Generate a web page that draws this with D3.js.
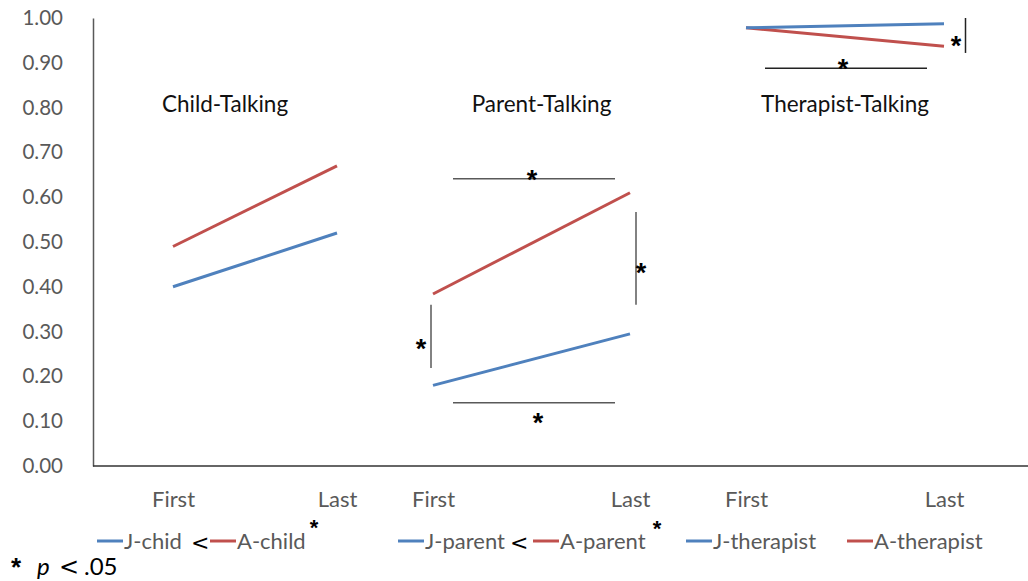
<!DOCTYPE html>
<html>
<head>
<meta charset="utf-8">
<script src="https://cdn.jsdelivr.net/npm/d3@7"></script>
<style>
  html, body { margin: 0; padding: 0; background: #fff; }
  svg { display: block; font-family: Lato, "Open Sans", sans-serif; }
</style>
</head>
<body>
<svg id="chart" width="1028" height="581"></svg>
<script>
// Proportion of talking time, first vs. last session
const times = ["First", "Last"];
const panels = ["Child-Talking", "Parent-Talking", "Therapist-Talking"];
const jValues = [[0.40, 0.52], [0.18, 0.295], [0.978, 0.987]];
const aValues = [[0.49, 0.67], [0.384, 0.61], [0.978, 0.937]];
const yTicks = [0, 0.1, 0.2, 0.3, 0.4, 0.5, 0.6, 0.7, 0.8, 0.9, 1.0];
const legendNames = ["J-chid", "A-child", "J-parent", "A-parent", "J-therapist", "A-therapist"];

const colors = { J: "#4F81BD", A: "#C0504D" };
const grey = "#595959";

const svg = d3.select("#chart");
const margin = { left: 93, top: 18, bottom: 466 };

const y = d3.scaleLinear().domain([0, 1]).range([margin.bottom, margin.top]);

// Each panel has its own First/Last positions along the shared baseline
const panelRanges = [[173, 337], [433, 630], [746, 944]];
const xs = panelRanges.map(r => d3.scalePoint().domain(times).range(r));

// y axis
const yAxis = d3.axisLeft(y).tickValues(yTicks).tickFormat(d3.format(".2f")).tickSize(0).tickPadding(30);
const gy = svg.append("g").attr("transform", `translate(${margin.left},0)`).call(yAxis);
gy.select(".domain").attr("stroke", grey).attr("stroke-width", 1.5);
gy.selectAll("text").attr("font-size", 20.5).attr("fill", grey).attr("font-family", "Lato");

// x baseline
svg.append("line")
  .attr("x1", margin.left).attr("x2", 1028)
  .attr("y1", y(0)).attr("y2", y(0))
  .attr("stroke", "#333").attr("stroke-width", 1.5);

// x tick labels for each panel
xs.forEach(x => {
  const gx = svg.append("g").attr("transform", `translate(0,${y(0)})`)
    .call(d3.axisBottom(x).tickSize(0).tickPadding(25));
  gx.select(".domain").remove();
  gx.selectAll("text").attr("font-size", 22).attr("fill", grey).attr("font-family", "Lato");
});

// panel titles
const titleShift = [-30, 10, 0];
panels.forEach((p, i) => {
  svg.append("text")
    .attr("x", d3.mean(panelRanges[i]) + titleShift[i])
    .attr("y", 112)
    .attr("text-anchor", "middle")
    .attr("font-size", 22.5)
    .attr("fill", "#111")
    .text(p);
});

// series lines
const line = (x) => d3.line().x((d, k) => x(times[k])).y(d => y(d));
panels.forEach((p, i) => {
  svg.append("path").datum(aValues[i])
    .attr("d", line(xs[i])).attr("fill", "none")
    .attr("stroke", colors.A).attr("stroke-width", 3);
  svg.append("path").datum(jValues[i])
    .attr("d", line(xs[i])).attr("fill", "none")
    .attr("stroke", colors.J).attr("stroke-width", 3);
});

// significance markers (asterisk centred on the given point)
const star = (sx, sy, fs = 27) => svg.append("text").attr("x", sx).attr("y", sy)
  .attr("text-anchor", "middle").attr("dominant-baseline", "central")
  .attr("font-size", fs).attr("font-weight", "bold").attr("fill", "#000")
  .attr("font-family", "Liberation Sans").text("*")
  .attr("dy", fs * 0.14);
const seg = (x1, y1, x2, y2, c, w) => svg.append("line")
  .attr("x1", x1).attr("y1", y1).attr("x2", x2).attr("y2", y2)
  .attr("stroke", c).attr("stroke-width", w);

// parent: First->Last changes and J vs A differences
seg(453, y(0.641), 615, y(0.641), grey, 1.5); star(532, y(0.641) - 3);
seg(453, y(0.141), 615, y(0.141), grey, 1.5); star(538, y(0.141) + 16);
seg(431, y(0.36), 431, y(0.219), grey, 1.5); star(421, y(0.27));
seg(636, y(0.567), 636, y(0.36), grey, 1.5); star(641, y(0.44));
// therapist
seg(765, y(0.888), 927, y(0.888), "#222", 1.5); star(843, y(0.888) - 3);
seg(965.5, y(1.0), 965.5, y(0.922), "#222", 1.5); star(956, y(0.945));

// legend
const legY = 541;
const legItems = [
  { name: legendNames[0], c: colors.J, x: 97 },
  { name: legendNames[1], c: colors.A, x: 210 },
  { name: legendNames[2], c: colors.J, x: 398 },
  { name: legendNames[3], c: colors.A, x: 533 },
  { name: legendNames[4], c: colors.J, x: 686 },
  { name: legendNames[5], c: colors.A, x: 847 }
];
legItems.forEach(d => {
  seg(d.x, legY, d.x + 26, legY, d.c, 3);
  svg.append("text").attr("x", d.x + 27).attr("y", legY + 8)
    .attr("font-size", 22).attr("fill", grey).text(d.name);
});
const lt = (tx, ty, s, fs) => svg.append("text").attr("x", tx).attr("y", ty)
  .attr("font-size", fs).attr("fill", "#000").attr("font-family", "DejaVu Sans").text(s);
lt(191, legY + 9, "<", 22);
lt(510, legY + 9, "<", 22);
star(314, 524, 22);
star(657, 525, 22);

// footnote
const fnY = 575;
star(16, 563, 26);
svg.append("text").attr("x", 37).attr("y", fnY).attr("font-size", 24)
  .attr("font-style", "italic").attr("fill", "#000").text("p");
svg.append("text").attr("x", 59).attr("y", fnY).attr("font-size", 24)
  .attr("fill", "#000").attr("font-family", "DejaVu Sans").text("<");
svg.append("text").attr("x", 84).attr("y", fnY).attr("font-size", 24)
  .attr("fill", "#000").text(".05");
</script>
</body>
</html>
